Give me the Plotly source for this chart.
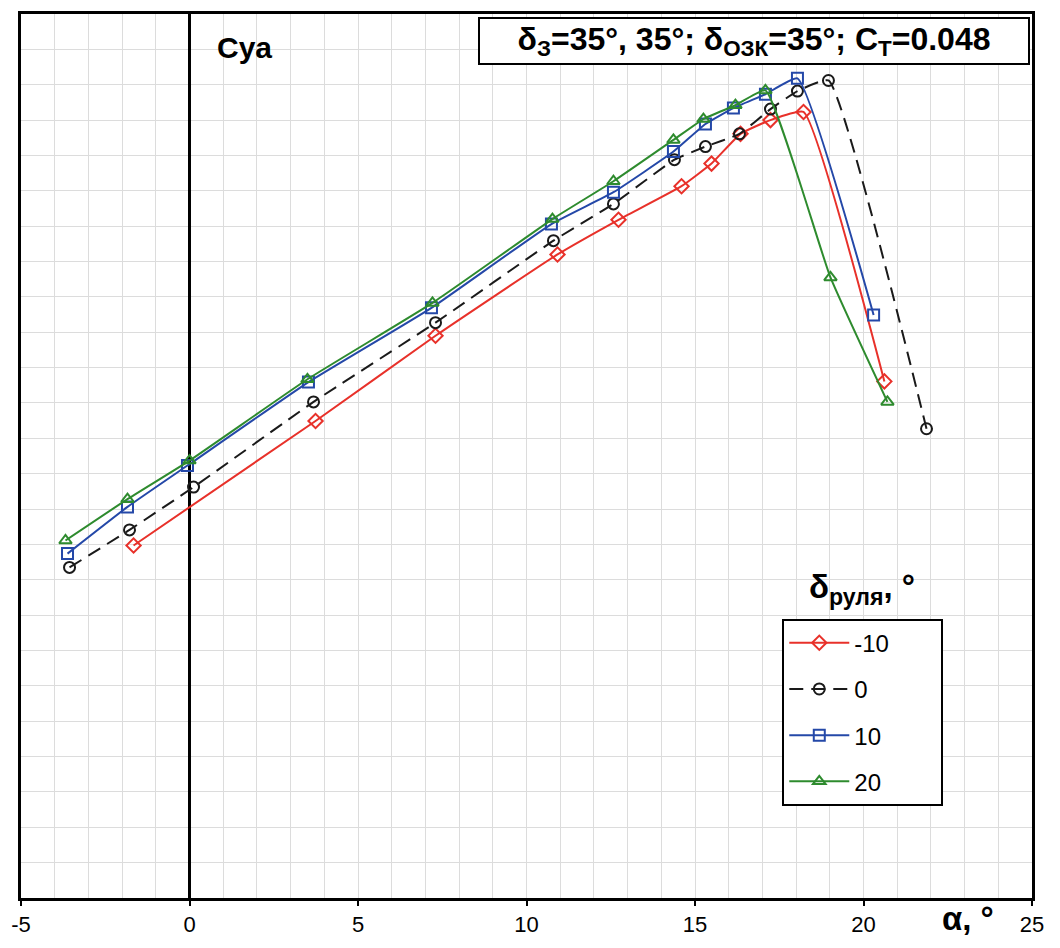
import plotly.graph_objects as go

# alpha (deg) and Cya readings per rudder deflection
alpha_m10 = [-1.66, 3.74, 7.30, 10.92, 12.73, 14.60, 15.49, 16.35, 17.24, 18.22, 20.62]
cya_m10 = [0.997, 1.349, 1.590, 1.820, 1.918, 2.013, 2.077, 2.161, 2.200, 2.223, 1.461]

alpha_0 = [-3.56, -1.78, 0.12, 3.68, 7.30, 10.80, 12.58, 14.39, 15.31, 16.32, 17.24, 18.04, 18.96, 21.87]
cya_0 = [0.935, 1.041, 1.162, 1.403, 1.627, 1.859, 1.963, 2.088, 2.125, 2.161, 2.231, 2.282, 2.312, 1.327]

alpha_10 = [-3.62, -1.84, -0.06, 3.53, 7.18, 10.74, 12.58, 14.36, 15.31, 16.14, 17.09, 18.04, 20.30]
cya_10 = [0.974, 1.106, 1.223, 1.459, 1.669, 1.906, 1.996, 2.111, 2.189, 2.234, 2.273, 2.318, 1.649]

alpha_20 = [-3.68, -1.84, 0.0, 3.50, 7.21, 10.77, 12.58, 14.36, 15.25, 16.20, 17.09, 19.02, 20.71]
cya_20 = [1.011, 1.128, 1.237, 1.467, 1.683, 1.920, 2.027, 2.144, 2.203, 2.242, 2.284, 1.755, 1.403]

series_names = ["-10", "0", "10", "20"]
x_ticks = [-5, 0, 5, 10, 15, 20, 25]

FONT = "Arial, Liberation Sans, sans-serif"
PAD = "\u00a0" * 7

fig = go.Figure()
styles = [
    (alpha_m10, cya_m10, "#e8312a", "solid", "diamond-open"),
    (alpha_0, cya_0, "#1a1a1a", "14px,8px", "circle-open"),
    (alpha_10, cya_10, "#2448a8", "solid", "square-open"),
    (alpha_20, cya_20, "#2e8b2e", "solid", "triangle-up-open"),
]
for name, (xs, ys, col, dash, sym) in zip(series_names, styles):
    fig.add_trace(go.Scatter(
        x=xs, y=ys, name=name + PAD, legendgroup=name,
        mode="lines+markers",
        line=dict(color=col, width=2, dash=dash, shape="spline", smoothing=0.4),
        marker=dict(symbol=sym, size=11, color=col, line=dict(color=col, width=2)),
    ))

fig.update_layout(
    width=1060, height=948,
    margin=dict(l=21, r=28, t=11, b=44),
    paper_bgcolor="white", plot_bgcolor="white",
    font=dict(family=FONT, size=22, color="black"),
    showlegend=True,
    legend=dict(
        x=0.753, y=0.316, xanchor="left", yanchor="top",
        bgcolor="white", bordercolor="black", borderwidth=2,
        font=dict(family=FONT, size=24, color="black"),
        tracegroupgap=12, itemwidth=60,
    ),
    xaxis=dict(
        range=[-5, 25], tickvals=x_ticks, ticktext=[str(v) for v in x_ticks],
        showgrid=True, gridcolor="#dcdcdc", gridwidth=1,
        minor=dict(dtick=1, showgrid=True, gridcolor="#dcdcdc", gridwidth=1),
        zeroline=True, zerolinecolor="black", zerolinewidth=2.5,
        showline=True, linecolor="black", linewidth=2.5, mirror=True,
        ticks="outside", ticklen=5, tickwidth=2, tickcolor="black",
        tickfont=dict(family=FONT, size=22, color="black"),
    ),
    yaxis=dict(
        range=[0, 2.5], dtick=0.5, showticklabels=False,
        showgrid=True, gridcolor="#dcdcdc", gridwidth=1,
        minor=dict(dtick=0.1, showgrid=True, gridcolor="#dcdcdc", gridwidth=1),
        zeroline=False,
        showline=True, linecolor="black", linewidth=2.5, mirror=True,
        ticks="",
    ),
    annotations=[
        dict(text="<b>Cya</b>", x=0.221, y=0.962, xref="paper", yref="paper",
             xanchor="center", yanchor="middle",
             showarrow=False, font=dict(family=FONT, size=30, color="black")),
        dict(text="<b>δ<sub>З</sub>=35°, 35°; δ<sub>ОЗК</sub>=35°; C<sub>Т</sub>=0.048</b>",
             x=0.725, y=0.970, xref="paper", yref="paper", showarrow=False,
             xanchor="center", yanchor="middle",
             width=546, height=42, align="center", valign="middle",
             bordercolor="black", borderwidth=2, bgcolor="white",
             font=dict(family=FONT, size=32, color="black")),
        dict(text="<b>δ<sub>руля</sub>, °</b>", x=0.832, y=0.349, xref="paper", yref="paper",
             xanchor="center", yanchor="middle",
             showarrow=False, font=dict(family=FONT, size=33, color="black")),
        dict(text="<b>α, °</b>", x=0.937, y=-0.0235, xref="paper", yref="paper",
             xanchor="center", yanchor="middle",
             showarrow=False, font=dict(family=FONT, size=33, color="black")),
    ],
)

fig.write_html("out.html", config={"displayModeBar": False},
               post_script="document.body.style.margin='0px';")
